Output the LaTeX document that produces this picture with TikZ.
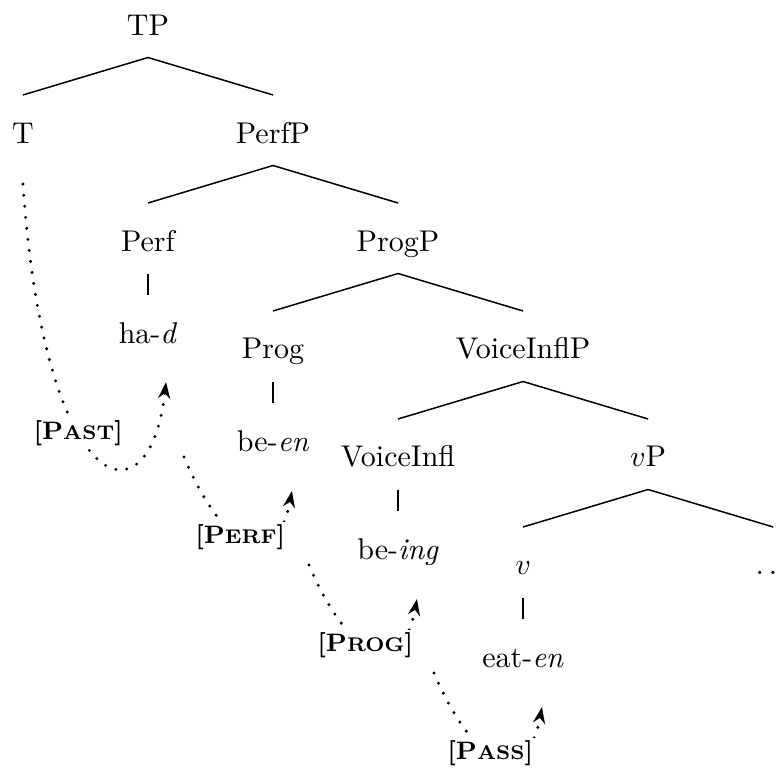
\documentclass[tikz,border=0pt]{standalone}
\usetikzlibrary{arrows.meta}

\newcommand{\feat}[2]{\textbf{\fontsize{8.4}{10}\selectfont[#1{\fontsize{6.6}{8}\selectfont #2}]}}

\begin{document}
\begin{tikzpicture}[x=1.4645cm, y=1.265cm, line width=0.5pt,
    cat/.style={anchor=base, inner ysep=0pt, outer sep=0pt, text height=16pt, text depth=7.5pt},
    mv/.style={line width=1.1pt, dash pattern=on 0pt off 3.7pt, line cap=round,
        -{Stealth[length=5.5pt, width=4pt]}},
    ft/.style={fill=white, inner sep=1pt}]
    \useasboundingbox (-1.7335cm, 0.41cm) rectangle ++(9.113cm, -9.042cm);
    \clip (-1.7335cm, 0.41cm) rectangle ++(9.113cm, -9.042cm);

    % phrases
    \node[cat] (TP) at (0, 0) {TP};
    \node[cat] (T) at (-1, -1) {T};
    \node[cat] (PerfP) at (1, -1) {PerfP};
    \node[cat] (Perf) at (0, -2) {Perf};
    \node[cat] (ProgP) at (2, -2) {ProgP};
    \node[cat] (Prog) at (1, -3) {Prog};
    \node[cat] (VoiceInflP) at (3, -3) {VoiceInflP};
    \node[cat] (VoiceInfl) at (2, -4) {VoiceInfl};
    \node[cat] (vP) at (4, -4) {$v$P};
    \node[cat] (v) at (3, -5) {$v$};
    \node[cat] (rest) at (5, -5) {$\ldots$};

    % morphemes
    \node[cat] (had) at (0, -2.852) {ha-\textit{d}};
    \node[cat] (been) at (1, -3.852) {be-\textit{en}};
    \node[cat] (being) at (2, -4.852) {be-\textit{ing}};
    \node[cat] (eaten) at (3, -5.852) {eat-\textit{en}};

    \foreach \a/\b in {TP/T, TP/PerfP, PerfP/Perf, PerfP/ProgP, ProgP/Prog,
            ProgP/VoiceInflP, VoiceInflP/VoiceInfl, VoiceInflP/vP, vP/v, vP/rest,
            Perf/had, Prog/been, VoiceInfl/being, v/eaten} {
        \draw (\a.south) -- (\b.north);
    }

    % affix hopping
    \draw[mv] ([yshift=-13.7pt]T.base) .. controls +(7.3pt, -106pt) and +(-5.3pt, -48.7pt)
        .. ([xshift=6pt, yshift=-13pt]had.base) node[ft, pos=0.4] (past) {\feat{P}{AST}};
    \foreach \s/\t/\n/\w in {had/been/perf/ERF, been/being/prog/ROG, being/eaten/pass/ASS} {
        \draw[mv] ([xshift=12pt, yshift=-38pt]\s.base) .. controls +(14.3pt, -33.7pt) and +(-4.7pt, -26pt)
            .. ([xshift=6.3pt, yshift=-13.3pt]\t.base) node[ft, pos=0.43] (\n) {\feat{P}{\w}};
    }
\end{tikzpicture}
\end{document}
